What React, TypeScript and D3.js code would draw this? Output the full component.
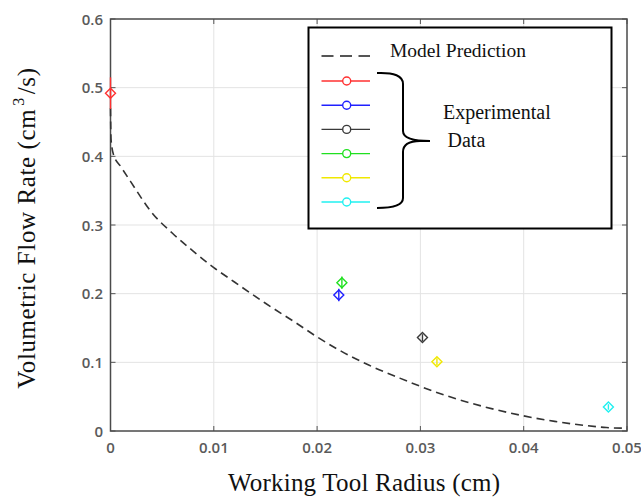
import React from "react";
import * as d3 from "d3";

// ---- data ----
const modelX = [0, 0.00005, 0.0003, 0.001, 0.002, 0.004, 0.006, 0.008, 0.01, 0.012, 0.015, 0.018, 0.02, 0.022, 0.025, 0.028, 0.03, 0.033, 0.036, 0.04, 0.043, 0.046, 0.048, 0.05];
const modelY = [0.47, 0.425, 0.402, 0.385, 0.362, 0.318, 0.288, 0.262, 0.238, 0.217, 0.186, 0.157, 0.137, 0.119, 0.096, 0.077, 0.065, 0.049, 0.036, 0.022, 0.014, 0.008, 0.005, 0.004];

const seriesNames = ["red", "blue", "black", "green", "yellow", "cyan"];
const seriesColors = ["#ff3030", "#2020ff", "#3a3a3a", "#20e020", "#f0e800", "#20f0f0"];
const expX = [0, 0.0221, 0.0302, 0.0224, 0.0316, 0.0482];
const expY = [0.492, 0.198, 0.136, 0.216, 0.101, 0.035];
const expErr = [0.023, 0.009, 0.005, 0.009, 0.005, 0.004];

const xTicks = [0, 0.01, 0.02, 0.03, 0.04, 0.05];
const xTickLabels = ["0", "0.01", "0.02", "0.03", "0.04", "0.05"];
const yTicks = [0, 0.1, 0.2, 0.3, 0.4, 0.5, 0.6];
const yTickLabels = ["0", "0.1", "0.2", "0.3", "0.4", "0.5", "0.6"];

const W = 641, H = 502;
const L = 110.5, R = 627, T = 19, B = 431;

export default function App() {
  const x = d3.scaleLinear().domain([0, 0.05]).range([L, R]);
  const y = d3.scaleLinear().domain([0, 0.6]).range([B, T]);
  const line = d3.line<number>().x((_, i) => x(modelX[i])).y((d) => y(d)).curve(d3.curveMonotoneX);
  const modelPath = line(modelY) || "";
  const tickColor = "#555";
  const tickFont = "'Open Sans', sans-serif";
  const serif = "'Liberation Serif', 'Times New Roman', serif";
  const diamond = (cx: number, cy: number, r: number) => `M${cx},${cy - r}L${cx + r},${cy}L${cx},${cy + r}L${cx - r},${cy}Z`;

  // legend layout
  const lgX = 308.5, lgY = 27.5, lgW = 303, lgH = 201;
  const rowY0 = 81, rowStep = 24.2;

  return (
    <svg width={W} height={H} style={{ position: "absolute", left: 0, top: 0, background: "#fff" }}>
      <rect x={0} y={0} width={W} height={H} fill="#fff" />
      {/* grid */}
      {xTicks.slice(1, -1).map((t) => (
        <line key={"gx" + t} x1={x(t)} x2={x(t)} y1={T} y2={B} stroke="#e3e3e3" strokeWidth={1} />
      ))}
      {yTicks.slice(1, -1).map((t) => (
        <line key={"gy" + t} x1={L} x2={R} y1={y(t)} y2={y(t)} stroke="#e3e3e3" strokeWidth={1} />
      ))}
      {/* ticks inward on all sides */}
      {xTicks.map((t) => (
        <g key={"tx" + t}>
          <line x1={x(t)} x2={x(t)} y1={B} y2={B - 5} stroke={tickColor} strokeWidth={1} />
          <line x1={x(t)} x2={x(t)} y1={T} y2={T + 5} stroke={tickColor} strokeWidth={1} />
        </g>
      ))}
      {yTicks.map((t) => (
        <g key={"ty" + t}>
          <line x1={L} x2={L + 5} y1={y(t)} y2={y(t)} stroke={tickColor} strokeWidth={1} />
          <line x1={R} x2={R - 5} y1={y(t)} y2={y(t)} stroke={tickColor} strokeWidth={1} />
        </g>
      ))}
      {/* frame */}
      <rect x={L} y={T} width={R - L} height={B - T} fill="none" stroke="#4a4a4a" strokeWidth={1.5} />
      {/* tick labels */}
      {xTicks.map((t, i) => (
        <text key={"lx" + t} x={x(t)} y={453} textAnchor="middle" fontFamily={tickFont} fontWeight={600} fontSize={15} fill="#5a5a5a">
          {xTickLabels[i]}
        </text>
      ))}
      {yTicks.map((t, i) => (
        <text key={"ly" + t} x={103} y={y(t) + 5.5} textAnchor="end" fontFamily={tickFont} fontWeight={600} fontSize={15} fill="#5a5a5a">
          {yTickLabels[i]}
        </text>
      ))}
      {/* model curve */}
      <path d={modelPath} fill="none" stroke="#333" strokeWidth={1.6} strokeDasharray="8,5" />
      {/* experimental points */}
      {expX.map((xv, i) => (
        <g key={"e" + i} stroke={seriesColors[i]} strokeWidth={1.4} fill="none">
          <line x1={x(xv)} x2={x(xv)} y1={y(expY[i] + expErr[i])} y2={y(expY[i] - expErr[i])} />
          <path d={diamond(x(xv), y(expY[i]), 5)} />
        </g>
      ))}
      {/* axis labels */}
      <text x={364} y={491} textAnchor="middle" fontFamily={serif} fontSize={25} fill="#111" textLength={272} lengthAdjust="spacing">
        Working Tool Radius (cm)
      </text>
      <text transform={`translate(35,${228}) rotate(-90)`} textAnchor="middle" fontFamily={serif} fontSize={25} fill="#111" letterSpacing={0.6}>
        Volumetric Flow Rate (cm
        <tspan fontSize={16} dy={-11} dx={3}>3</tspan>
        <tspan dy={11} dx={3}>/s)</tspan>
      </text>
      {/* legend */}
      <rect x={lgX} y={lgY} width={lgW} height={lgH} fill="#fff" stroke="#000" strokeWidth={2} />
      <line x1={321.5} x2={370} y1={56} y2={56} stroke="#555" strokeWidth={1.8} strokeDasharray="12,6.5" />
      <text x={390} y={57} fontFamily={serif} fontSize={19.5} fill="#111">Model Prediction</text>
      {seriesNames.map((n, i) => {
        const ry = rowY0 + i * rowStep;
        return (
          <g key={"lg" + n} stroke={seriesColors[i]} strokeWidth={1.4} fill="none">
            <line x1={321.5} x2={370} y1={ry} y2={ry} />
            <circle cx={346.7} cy={ry} r={4} fill="#fff" />
          </g>
        );
      })}
      <path d="M377,73 Q403,72 403,84 L403,131 Q403,141 430,141 L420,141 Q403,141 403,152 L403,198 Q403,208 377,208" fill="none" stroke="#000" strokeWidth={2} />
      <text x={443} y={119} fontFamily={serif} fontSize={20} fill="#111">Experimental</text>
      <text x={447.5} y={147} fontFamily={serif} fontSize={20} fill="#111">Data</text>
    </svg>
  );
}
